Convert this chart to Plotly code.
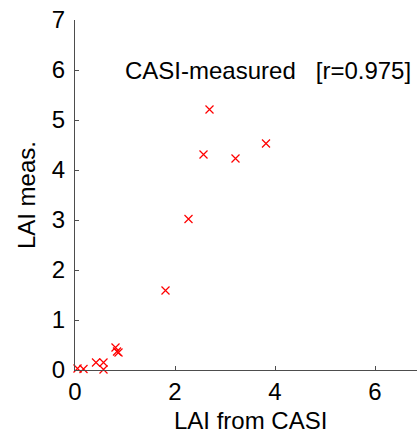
import plotly.graph_objects as go

# LAI estimated from CASI imagery vs. field-measured LAI
lai_casi = [0.05, 0.17, 0.42, 0.57, 0.57, 0.81, 0.84, 0.87, 1.81, 2.27, 2.57, 2.69, 3.21, 3.82]
lai_meas = [0.03, 0.02, 0.15, 0.15, 0.01, 0.45, 0.37, 0.35, 1.59, 3.02, 4.31, 5.21, 4.23, 4.53]

x_ticks = [0, 2, 4, 6]
y_ticks = [0, 1, 2, 3, 4, 5, 6, 7]

label_text = "CASI-measured   [r=0.975]"
x_title = "LAI from CASI"
y_title = "LAI meas."

FONT = "Liberation Sans, Arial, sans-serif"
AXIS_COLOR = "#4d4d4d"

fig = go.Figure()
fig.add_trace(go.Scatter(
    x=lai_casi, y=lai_meas, mode="markers",
    marker=dict(symbol="x-thin", size=8, line=dict(color="#ff0000", width=1.2)),
    cliponaxis=False, showlegend=False,
))

fig.add_annotation(x=0.95, y=6.0, xref="x", yref="y", text=label_text,
                   showarrow=False, xanchor="left", yanchor="middle",
                   font=dict(size=24, color="black", family=FONT))
# axis titles, centred on the 0–7 data span
fig.add_annotation(x=0.5117, y=-0.143, xref="paper", yref="paper", text=x_title,
                   showarrow=False, xanchor="center", yanchor="middle",
                   font=dict(size=24, color="black", family=FONT))
fig.add_annotation(x=-0.143, y=0.5, xref="paper", yref="paper", text=y_title,
                   textangle=-90, showarrow=False, xanchor="center", yanchor="middle",
                   font=dict(size=24, color="black", family=FONT))

axis_common = dict(showgrid=False, zeroline=False, showline=True, linecolor=AXIS_COLOR,
                   linewidth=1, ticks="inside", ticklen=4, tickcolor=AXIS_COLOR,
                   tickfont=dict(size=24, color="black", family=FONT), mirror=False)

fig.update_layout(
    width=417, height=435,
    margin=dict(l=75, r=0, t=20, b=65),
    paper_bgcolor="white", plot_bgcolor="white",
    xaxis=dict(range=[0, 6.84], tickvals=x_ticks, **axis_common),
    yaxis=dict(range=[0, 7], tickvals=y_ticks, ticklabelstandoff=4, **axis_common),
)

fig.write_html("out.html")
